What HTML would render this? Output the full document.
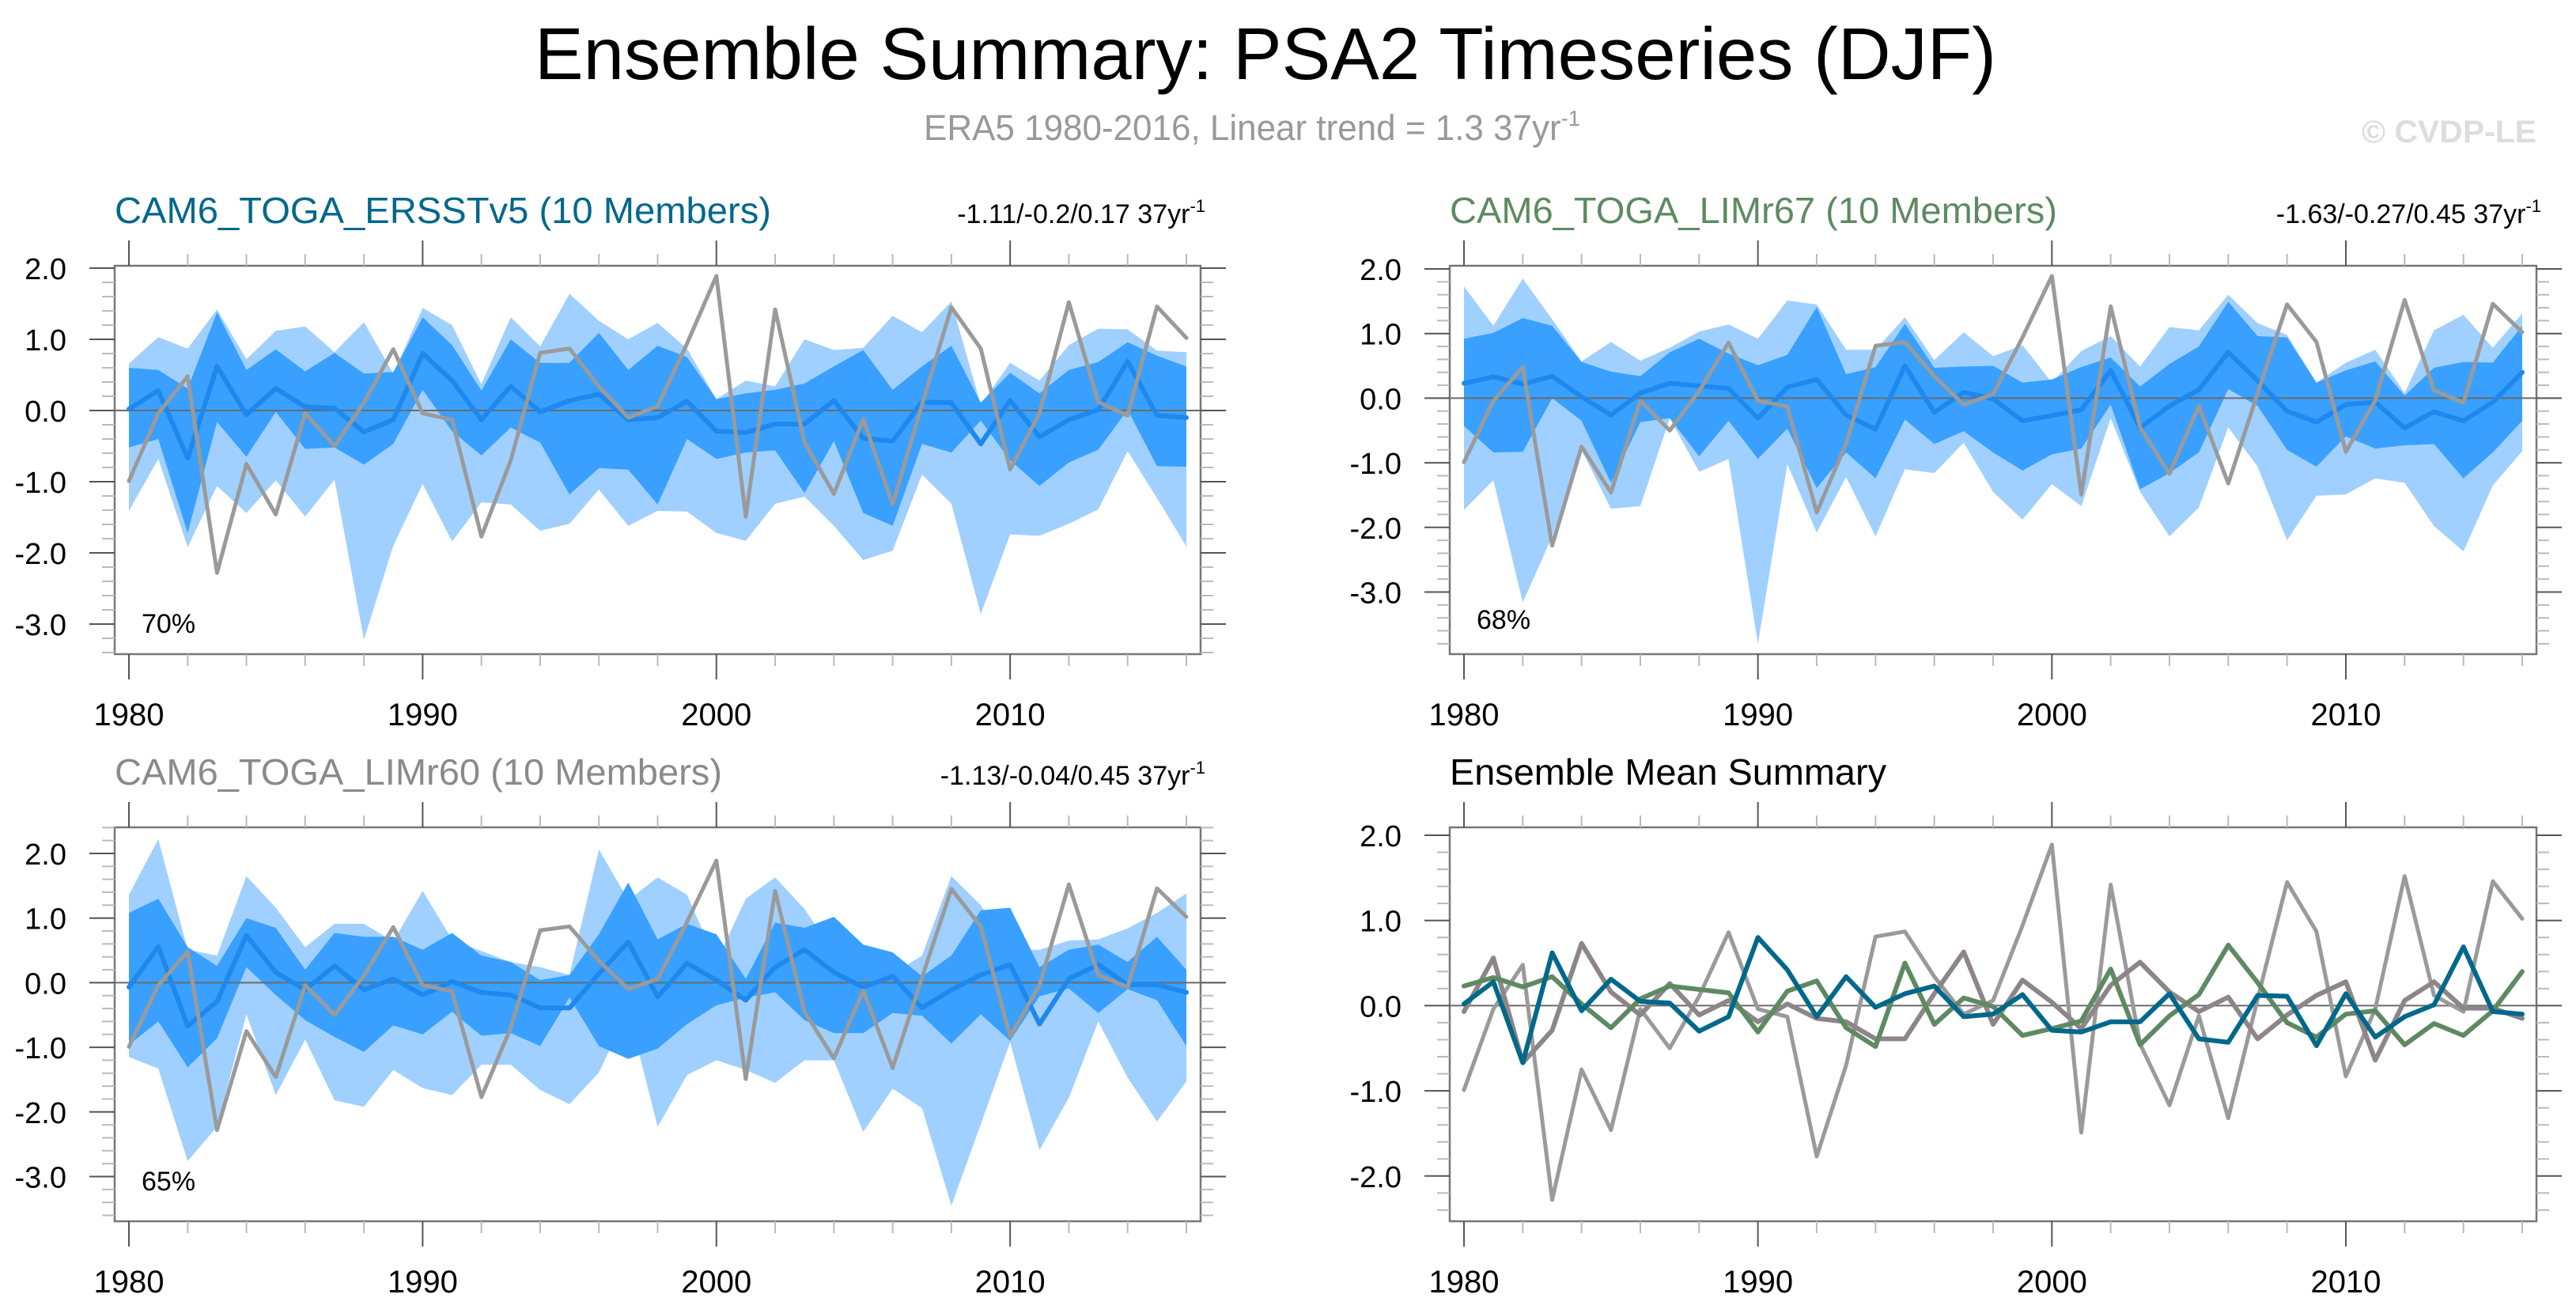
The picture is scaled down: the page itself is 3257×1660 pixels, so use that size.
<!DOCTYPE html>
<html><head><meta charset="utf-8"><style>
html,body{margin:0;padding:0;background:#fff;}
svg{display:block;font-family:"Liberation Sans",sans-serif;}
</style></head><body>
<svg id="fig" width="3257" height="1660" viewBox="0 0 3257 1660" xmlns="http://www.w3.org/2000/svg">
<text x="676" y="100" font-size="93" textLength="1848" lengthAdjust="spacingAndGlyphs" fill="#000">Ensemble Summary: PSA2 Timeseries (DJF)</text>
<text x="1168" y="177" font-size="45" textLength="830" lengthAdjust="spacingAndGlyphs" fill="#999">ERA5 1980-2016, Linear trend = 1.3 37yr<tspan dy="-18" font-size="28">-1</tspan></text>
<text x="2986" y="180" font-size="40" font-weight="bold" textLength="221" lengthAdjust="spacingAndGlyphs" fill="#ddd">© CVDP-LE</text>
<g id="panels"></g>
</svg>
<script>
const years = [];
for (let y = 1980; y <= 2016; y++) years.push(y);
const obs = [-0.99,-0.04,0.48,-2.28,-0.75,-1.46,-0.04,-0.5,0.11,0.86,-0.04,-0.13,-1.77,-0.7,0.81,0.87,0.34,-0.1,0.06,0.94,1.89,-1.49,1.42,-0.45,-1.17,-0.12,-1.32,0.08,1.45,0.87,-0.83,-0.04,1.52,0.12,-0.07,1.46,1.02];
const p1Mean = [0.02,0.28,-0.67,0.62,-0.06,0.31,0.05,0.03,-0.3,-0.13,0.8,0.42,-0.13,0.34,-0.02,0.14,0.23,-0.13,-0.1,0.13,-0.29,-0.31,-0.19,-0.19,0.14,-0.39,-0.43,0.12,0.11,-0.47,0.14,-0.37,-0.13,0.01,0.69,-0.07,-0.1];
const p1DarkHi = [0.6,0.57,0.31,1.38,0.57,0.86,0.55,0.81,0.52,0.54,1.31,0.92,0.28,1.0,0.67,0.67,1.09,0.57,0.91,0.75,0.16,0.24,0.29,0.38,0.62,0.85,0.29,0.62,0.91,0.11,0.53,0.24,0.57,0.68,0.96,0.77,0.62];
const p1DarkLo = [-0.52,-0.4,-1.72,-0.16,-0.65,-0.02,-0.54,-0.52,-0.76,-0.47,0.29,-0.29,-0.63,-0.24,-0.45,-1.18,-0.81,-0.83,-1.32,-0.4,-0.68,-0.59,-0.56,-1.16,-0.43,-1.44,-1.62,-0.47,-0.59,-0.14,-0.7,-1.06,-0.73,-0.55,0.01,-0.78,-0.79];
const p1LightHi = [0.66,1.03,0.87,1.42,0.72,1.12,1.18,0.82,1.24,0.52,1.44,1.2,0.37,1.31,0.9,1.64,1.26,1.0,1.23,0.87,0.16,0.42,0.34,1.0,0.85,0.88,1.33,1.1,1.53,0.08,0.67,0.42,0.92,1.15,1.14,0.84,0.82];
const p1LightLo = [-1.41,-0.68,-1.92,-1.06,-1.44,-0.98,-1.49,-0.97,-3.22,-1.9,-1.03,-1.84,-1.29,-1.32,-1.69,-1.59,-1.11,-1.62,-1.41,-1.42,-1.72,-1.83,-1.31,-1.21,-1.62,-2.1,-1.97,-0.9,-1.31,-2.86,-1.74,-1.76,-1.59,-1.39,-0.57,-1.23,-1.91];
const p2Mean = [0.23,0.33,0.22,0.34,0.02,-0.26,0.08,0.23,0.19,0.15,-0.31,0.17,0.29,-0.26,-0.48,0.5,-0.22,0.09,-0.01,-0.35,-0.27,-0.18,0.43,-0.46,-0.12,0.13,0.71,0.27,-0.2,-0.37,-0.1,-0.06,-0.46,-0.21,-0.35,-0.06,0.4];
const p2DarkHi = [0.92,1.01,1.24,1.12,0.56,0.41,0.34,0.71,0.92,0.69,0.51,0.67,1.41,0.37,0.48,1.15,0.47,0.49,0.5,0.24,0.29,0.48,0.63,0.18,0.53,0.8,1.49,0.96,0.94,0.24,0.43,0.57,0.04,0.47,0.56,0.55,1.12];
const p2DarkLo = [-0.43,-0.84,-0.83,0,-0.35,-1.31,-0.37,-0.31,-0.9,-0.35,-0.94,-0.47,-1.39,-0.84,-1.24,-0.33,-0.71,-0.51,-0.84,-1.12,-0.87,-0.78,-0.1,-1.41,-1.16,-0.84,0.14,-0.12,-0.8,-1.06,-0.59,-0.78,-0.73,-0.71,-1.24,-0.84,-0.35];
const p2LightHi = [1.73,1.12,1.85,1.22,0.57,0.87,0.58,0.78,1.03,1.14,0.92,1.51,1.45,0.75,0.75,1.25,0.59,1.02,0.65,0.82,0.24,0.73,0.96,0.49,1.1,1.05,1.6,1.16,0.98,0.24,0.55,0.75,0.08,1.05,1.29,0.78,1.31];
const p2LightLo = [-1.73,-1.27,-3.16,-2.14,-0.8,-1.71,-1.67,-0.31,-1.14,-0.94,-3.8,-1.02,-2.08,-1.22,-2.14,-1.1,-1.16,-0.69,-1.45,-1.88,-1.33,-1.67,-0.31,-1.45,-2.14,-1.69,-0.45,-1.06,-2.2,-1.51,-1.49,-1.24,-1.31,-1.98,-2.37,-1.35,-0.82];
const p3Mean = [-0.07,0.56,-0.67,-0.29,0.73,0.16,-0.11,0.26,-0.11,0.06,-0.19,0.02,-0.15,-0.19,-0.39,-0.39,0.14,0.63,-0.22,0.3,0.04,-0.27,0.24,0.51,0.16,-0.07,0.1,-0.39,-0.11,0.12,0.28,-0.64,0.06,0.28,-0.03,-0.03,-0.15];
const p3DarkHi = [1.08,1.3,0.55,0.26,1.0,0.85,0.2,0.77,0.71,0.71,0.51,0.77,0.42,0.32,0.04,0.12,0.75,1.55,0.67,0.91,0.75,0.06,0.93,0.85,1.02,0.59,0.47,0.1,0.42,1.12,1.16,0.24,0.51,0.59,0.32,0.71,0.2];
const p3DarkLo = [-0.96,-0.6,-1.31,-0.86,0.24,-0.19,-0.58,-0.84,-1.07,-0.66,-0.8,-0.45,-0.82,-0.78,-0.98,-0.23,-0.98,-1.18,-1.02,-0.64,-0.35,-0.23,-0.15,-0.58,-0.78,-0.78,-0.47,-0.51,-0.94,-0.49,-0.9,-0.21,-0.09,-0.47,-0.1,-0.27,-0.98];
const p3LightHi = [1.36,2.22,0.51,0.42,1.65,1.16,0.55,0.91,0.91,0.64,1.42,0.67,0.49,0.32,0.24,0.12,2.06,1.28,1.63,1.36,0.32,1.3,1.63,1.14,0.47,0.55,0.14,0.42,1.65,1.2,0.51,0.51,0.65,0.67,0.84,1.08,1.38];
const p3LightLo = [-1.15,-1.33,-2.76,-2.23,-0.49,-1.74,-0.88,-1.82,-1.92,-1.35,-1.63,-1.74,-1.27,-1.27,-1.66,-1.88,-1.39,-0.43,-2.23,-1.43,-1.2,-1.35,-1.55,-1.2,-1.2,-2.31,-1.64,-1.94,-3.45,-2.19,-0.92,-2.59,-1.78,-0.6,-1.47,-2.15,-1.53];
const xTickLabels = ["1980","1990","2000","2010"];
const yTickLabels45 = ["2.0","1.0","0.0","-1.0","-2.0","-3.0"];
const yTickLabelsMean = ["2.0","1.0","0.0","-1.0","-2.0"];

const NS = "http://www.w3.org/2000/svg";
const root = document.getElementById("panels");
function mk(tag, attrs, parent) {
  const e = document.createElementNS(NS, tag);
  for (const k in attrs) e.setAttribute(k, attrs[k]);
  (parent || root).appendChild(e);
  return e;
}
function makePanel(cfg) {
  const g = mk("g", {});
  
  
  const xs = yr => cfg.xa + (yr - 1980) * (cfg.xb - cfg.xa) / 36;
  const ys = v => cfg.y2 + (2 - v) * cfg.ppu;
  const vTop = 2 - (cfg.top - cfg.y2) / cfg.ppu;
  const vBot = 2 - (cfg.bot - cfg.y2) / cfg.ppu;
  // bands
  if (cfg.lightHi) {
    const band = (hi, lo, col, nm) => {
      let pts = years.map((yr, i) => xs(yr) + "," + ys(hi[i]));
      for (let i = years.length - 1; i >= 0; i--) pts.push(xs(years[i]) + "," + ys(lo[i]));
      const p = mk("polygon", {points: pts.join(" "), fill: col}, g);
      
      
    };
    band(cfg.lightHi, cfg.lightLo, "#a0d0ff", "outer-spread-band");
    band(cfg.darkHi, cfg.darkLo, "#39a0ff", "inner-spread-band");
  }
  const zl = mk("line", {x1: cfg.x0, x2: cfg.x1, y1: ys(0), y2: ys(0), stroke: "#6a6a6a", "stroke-width": 2}, g);
  
  
  // series
  cfg.series.forEach(s => {
    const d = s.vals.map((v, i) => (i ? "L" : "M") + xs(years[i]) + " " + ys(v)).join(" ");
    const p = mk("path", {d: d, fill: "none", stroke: s.col, "stroke-width": s.w, "stroke-linejoin": "round", "stroke-linecap": "round"}, g);
    
    
  });
  // frame
  const fr = mk("rect", {x: cfg.x0, y: cfg.top, width: cfg.x1 - cfg.x0, height: cfg.bot - cfg.top, fill: "none", stroke: "#777", "stroke-width": 2.5}, g);
  
  
  // x ticks
  for (let yr = 1980; yr <= 2016; yr += 2) {
    const major = yr % 10 === 0;
    const len = major ? 32 : 15, col = major ? "#555" : "#bbb";
    mk("line", {x1: xs(yr), x2: xs(yr), y1: cfg.top, y2: cfg.top - len, stroke: col, "stroke-width": 2}, g);
    mk("line", {x1: xs(yr), x2: xs(yr), y1: cfg.bot, y2: cfg.bot + len, stroke: col, "stroke-width": 2}, g);
  }
  xTickLabels.forEach(lb => {
    const t = mk("text", {x: xs(+lb), y: cfg.bot + 90, "font-size": 40, "text-anchor": "middle", fill: "#000"}, g);
    t.textContent = lb;
    
    
  });
  // y ticks
  for (let k = Math.ceil(vBot * 5); k <= Math.floor(vTop * 5); k++) {
    const v = k / 5, major = k % 5 === 0;
    const len = major ? 32 : 16, col = major ? "#555" : "#bbb";
    mk("line", {x1: cfg.x0, x2: cfg.x0 - len, y1: ys(v), y2: ys(v), stroke: col, "stroke-width": 2}, g);
    mk("line", {x1: cfg.x1, x2: cfg.x1 + len, y1: ys(v), y2: ys(v), stroke: col, "stroke-width": 2}, g);
  }
  cfg.yLabels.forEach(lb => {
    const t = mk("text", {x: cfg.x0 - 61, y: ys(+lb) + 14, "font-size": 38, "text-anchor": "end", fill: "#000"}, g);
    t.textContent = lb;
    
    
  });
  // title
  const tt = mk("text", {x: cfg.x0, y: cfg.top - 54, "font-size": 46, fill: cfg.titleCol, textLength: cfg.titleW, lengthAdjust: "spacingAndGlyphs"}, g);
  tt.textContent = cfg.title;
  
  
  if (cfg.trend) {
    const tr = mk("text", {x: cfg.x1 + 6, y: cfg.top - 54, "font-size": 34, "text-anchor": "end", fill: "#000"}, g);
    tr.textContent = cfg.trend;
    const sup = mk("tspan", {dy: -14, "font-size": 22}, tr);
    sup.textContent = "-1";
    
    
  }
  if (cfg.pct) {
    const pt = mk("text", {x: cfg.x0 + 34, y: cfg.pctY, "font-size": 34, fill: "#000"}, g);
    pt.textContent = cfg.pct;
    
    
  }
}
const obsS = {vals: obs, col: "#9a9a9a", w: 5, name: "era5-observed-line"};
makePanel({name: "panel-cam6-toga-ersstv5", x0: 145, x1: 1518, xa: 163, xb: 1500, top: 336, bot: 827, y2: 339, ppu: 90,
  lightHi: p1LightHi, lightLo: p1LightLo, darkHi: p1DarkHi, darkLo: p1DarkLo,
  series: [{vals: p1Mean, col: "#1e88ee", w: 6, name: "ensemble-mean-line"}, obsS],
  yLabels: yTickLabels45, title: "CAM6_TOGA_ERSSTv5 (10 Members)", titleCol: "#00688b", titleW: 830,
  trend: "-1.11/-0.2/0.17 37yr", pct: "70%", pctY: 800});
makePanel({name: "panel-cam6-toga-limr67", x0: 1833, x1: 3207, xa: 1851, xb: 3189, top: 336, bot: 827, y2: 340, ppu: 81.7,
  lightHi: p2LightHi, lightLo: p2LightLo, darkHi: p2DarkHi, darkLo: p2DarkLo,
  series: [{vals: p2Mean, col: "#1e88ee", w: 6, name: "ensemble-mean-line"}, obsS],
  yLabels: yTickLabels45, title: "CAM6_TOGA_LIMr67 (10 Members)", titleCol: "#5e8a62", titleW: 768,
  trend: "-1.63/-0.27/0.45 37yr", pct: "68%", pctY: 795});
makePanel({name: "panel-cam6-toga-limr60", x0: 145, x1: 1518, xa: 163, xb: 1500, top: 1046, bot: 1544, y2: 1079, ppu: 81.7,
  lightHi: p3LightHi, lightLo: p3LightLo, darkHi: p3DarkHi, darkLo: p3DarkLo,
  series: [{vals: p3Mean, col: "#1e88ee", w: 6, name: "ensemble-mean-line"}, obsS],
  yLabels: yTickLabels45, title: "CAM6_TOGA_LIMr60 (10 Members)", titleCol: "#8a8a8a", titleW: 768,
  trend: "-1.13/-0.04/0.45 37yr", pct: "65%", pctY: 1505});
makePanel({name: "panel-ensemble-mean-summary", x0: 1833, x1: 3207, xa: 1851, xb: 3189, top: 1046, bot: 1544, y2: 1056, ppu: 107.7,
  series: [{vals: obs, col: "#9a9a9a", w: 5, name: "era5-observed-line"},
           {vals: p3Mean, col: "#8e8589", w: 6, name: "limr60-mean-line"},
           {vals: p2Mean, col: "#5e8a62", w: 6, name: "limr67-mean-line"},
           {vals: p1Mean, col: "#00688b", w: 6, name: "ersstv5-mean-line"}],
  yLabels: yTickLabelsMean, title: "Ensemble Mean Summary", titleCol: "#000", titleW: 552});
</script>
</body></html>
